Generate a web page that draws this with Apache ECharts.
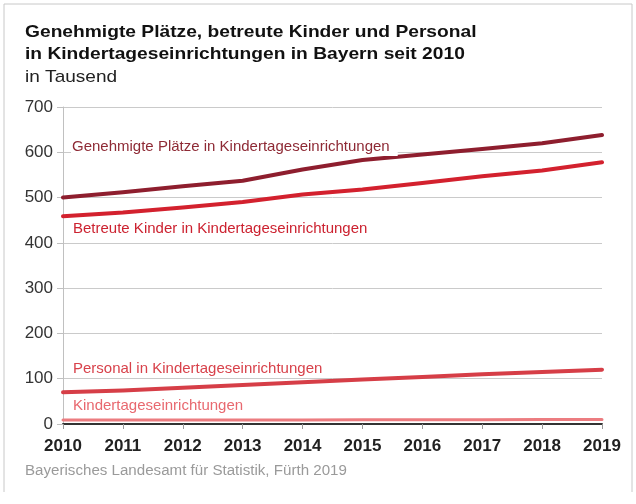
<!DOCTYPE html>
<html>
<head>
	<meta charset="UTF-8">
	<title>Kindertageseinrichtungen in Bayern</title>
	<script src="https://cdn.jsdelivr.net/npm/echarts@6/dist/echarts.min.js"></script>
	<style>
		html, body { margin: 0; padding: 0; background: #fff; }
		#container { width: 636px; height: 504px; }
	</style>
</head>
<body>
<div id="container"></div>
<script>
	// Werte in Tausend
	var jahre = ['2010', '2011', '2012', '2013', '2014', '2015', '2016', '2017', '2018', '2019'];
	var plaetze = [500, 512, 525, 537, 562, 583, 595, 607, 620, 638];
	var kinder = [459, 467, 478, 490, 507, 518, 532, 547, 560, 578];
	var personal = [70, 74, 80, 86, 92, 98, 104, 110, 115, 120];
	var einrichtungen = [8.6, 8.7, 8.9, 9.0, 9.1, 9.2, 9.4, 9.6, 9.8, 10.0];

	var font = '"Liberation Sans", Arial, Helvetica, sans-serif';

	var dom = document.getElementById("container");
	var myChart = echarts.init(dom);

	function reihe(name, data, farbe, breite) {
		return {
			name: name,
			type: 'line',
			data: data,
			symbol: 'none',
			silent: true,
			lineStyle: { color: farbe, width: breite, cap: 'round', join: 'round' },
			itemStyle: { color: farbe }
		};
	}

	// Text mit leichter horizontaler Streckung wie im Original
	function text(inhalt, x, y, schrift, farbe, streckung, hintergrund) {
		return {
			type: 'text',
			x: x,
			y: y,
			scaleX: streckung,
			z: 100,
			silent: true,
			style: {
				text: inhalt,
				x: 0,
				y: 0,
				fill: farbe,
				font: schrift,
				verticalAlign: 'top',
				backgroundColor: hintergrund ? '#fff' : null,
				padding: hintergrund ? [1, 8, 2, 1] : 0
			}
		};
	}

	var option = {
		animation: false,
		grid: { left: 63, right: 34, top: 107, bottom: 80 },
		xAxis: {
			type: 'category',
			boundaryGap: false,
			data: jahre,
			axisLine: { lineStyle: { color: '#333', width: 2 } },
			axisTick: { show: true, alignWithLabel: true, length: 5, lineStyle: { color: '#999' } },
			axisLabel: { fontFamily: font, fontSize: 17, fontWeight: 'bold', color: '#222', margin: 14 }
		},
		yAxis: {
			type: 'value',
			min: 0,
			max: 700,
			interval: 100,
			axisLine: { show: true, lineStyle: { color: '#c0c0c0' } },
			axisTick: { show: true, length: 6, lineStyle: { color: '#c0c0c0' } },
			axisLabel: { fontFamily: font, fontSize: 17, color: '#333', margin: 10 },
			splitLine: { lineStyle: { color: '#cacaca' } }
		},
		series: [
			reihe('Kindertageseinrichtungen', einrichtungen, '#ec7c80', 3),
			reihe('Personal in Kindertageseinrichtungen', personal, '#d63e47', 4),
			reihe('Betreute Kinder in Kindertageseinrichtungen', kinder, '#d3212e', 4),
			reihe('Genehmigte Plätze in Kindertageseinrichtungen', plaetze, '#8e1e2e', 4)
		],
		graphic: [
			{
				type: 'polyline',
				shape: { points: [[4, 492], [4, 4], [632, 4], [632, 492]] },
				style: { stroke: '#c8c8c8', lineWidth: 1, fill: null },
				silent: true
			},
			text('Genehmigte Plätze, betreute Kinder und Personal', 25, 24, 'bold 17px ' + font, '#111', 1.13),
			text('in Kindertageseinrichtungen in Bayern seit 2010', 25, 46, 'bold 17px ' + font, '#111', 1.13),
			text('in Tausend', 25, 69, '17px ' + font, '#222', 1.12),
			text('Genehmigte Plätze in Kindertageseinrichtungen', 71, 138, '15px ' + font, '#8e2a35', 1, true),
			text('Betreute Kinder in Kindertageseinrichtungen', 73, 221, '15px ' + font, '#cc2230', 1),
			text('Personal in Kindertageseinrichtungen', 73, 361, '15px ' + font, '#d8424b', 1),
			text('Kindertageseinrichtungen', 73, 398, '15px ' + font, '#e8686f', 1),
			text('Bayerisches Landesamt für Statistik, Fürth 2019', 25, 464, '14px ' + font, '#9a9a9a', 1.08)
		]
	};

	if (option && typeof option === "object") {
		myChart.setOption(option, true);
	}
</script>
</body>
</html>
